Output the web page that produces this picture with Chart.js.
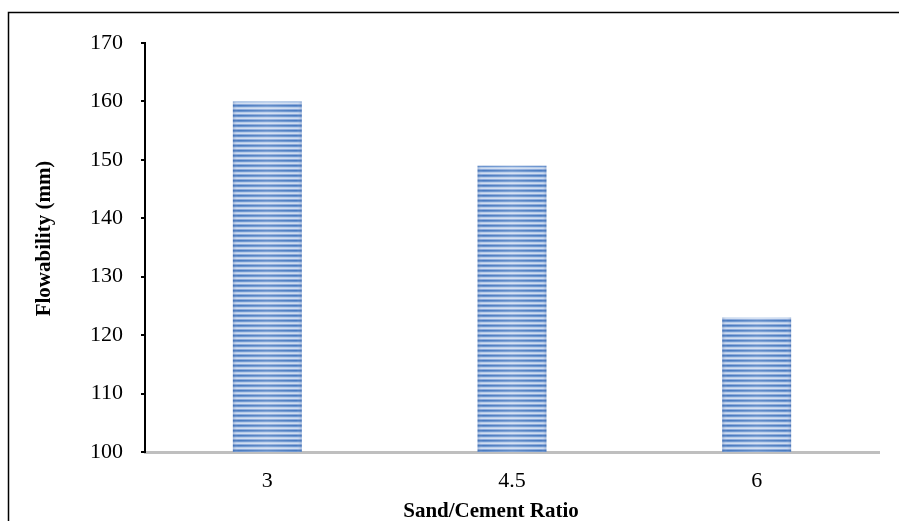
<!DOCTYPE html>
<html>
<head>
<meta charset="utf-8">
<script src="https://cdn.jsdelivr.net/npm/chart.js@4.4.1/dist/chart.umd.min.js"></script>
<style>
    body { margin: 0; background: #fff; }
    #chartBox { width: 899px; height: 521px; }
</style>
</head>
<body>
<div id="chartBox"><canvas id="myBarChart"></canvas></div>
<script>
// data
var ratioLabels = ['3', '4.5', '6'];
var flowValues = [160, 149, 123];
var yTicks = [100, 110, 120, 130, 140, 150, 160, 170];

var xTitle = 'Sand/Cement Ratio';
var yTitle = 'Flowability (mm)';

var barFrac = 0.282;

function stripeTile(w) {
    // horizontal stripes, a bit lighter towards the middle of the bar
    let c = document.createElement('canvas');
    c.width = w;
    c.height = 5;
    let p = c.getContext('2d');
    let rows = ['#4a7bc0', '#6e96d0', '#b4cbea', '#cfdcf0', '#8aa9da'];
    for (let i = 0; i < rows.length; i++) {
        p.fillStyle = rows[i];
        p.fillRect(0, i, w, 1);
    }
    let g = p.createLinearGradient(0, 0, w, 0);
    g.addColorStop(0, 'rgba(40,80,150,0.25)');
    g.addColorStop(0.08, 'rgba(255,255,255,0)');
    g.addColorStop(0.5, 'rgba(255,255,255,0.15)');
    g.addColorStop(0.92, 'rgba(255,255,255,0)');
    g.addColorStop(1, 'rgba(40,80,150,0.25)');
    p.fillStyle = g;
    p.fillRect(0, 0, w, 5);
    return c;
}

function barFill(context) {
    let chart = context.chart;
    let xs = chart.scales.x;
    let fallback = '#7fa3d6';
    if (!xs || context.dataIndex === undefined) return fallback;
    let cat = xs.width / ratioLabels.length;
    let w = Math.round(cat * barFrac);
    let left = xs.getPixelForValue(context.dataIndex) - w / 2;
    if (!isFinite(w) || w < 2 || !isFinite(left)) return fallback;
    let pat = chart.ctx.createPattern(stripeTile(w), 'repeat');
    if (pat.setTransform) pat.setTransform(new DOMMatrix().translate(left, 0));
    return pat;
}

// frame + axis titles
var decorPlugin = {
    id: 'decor',
    afterDraw: function(chart) {
        let ctx = chart.ctx;
        ctx.save();
        ctx.strokeStyle = '#000';
        ctx.lineWidth = 1.5;
        ctx.beginPath();
        ctx.moveTo(8.5, 530);
        ctx.lineTo(8.5, 12.5);
        ctx.lineTo(905, 12.5);
        ctx.stroke();

        ctx.fillStyle = '#000';
        ctx.font = 'bold 21px "Liberation Serif", "Times New Roman", serif';
        ctx.textAlign = 'center';
        ctx.textBaseline = 'alphabetic';
        ctx.fillText(xTitle, 491, 517);

        ctx.translate(50, 238.5);
        ctx.rotate(-Math.PI / 2);
        ctx.fillText(yTitle, 0, 0);
        ctx.restore();
    }
};

function populateBarChart(chartId) {
    const ctx = document.getElementById(chartId).getContext('2d');
    var myChart = new Chart(ctx, {
        type: 'bar',
        data: {
            labels: ratioLabels,
            datasets: [{
                label: 'Flowability',
                data: flowValues,
                backgroundColor: barFill,
                borderWidth: 0,
                categoryPercentage: 1,
                barPercentage: barFrac
            }]
        },
        options: {
            responsive: true,
            maintainAspectRatio: false,
            animation: false,
            layout: {
                padding: { top: 43, right: 20, bottom: 0, left: 0 }
            },
            plugins: {
                legend: { display: false },
                tooltip: { enabled: false }
            },
            scales: {
                x: {
                    grid: { display: false, drawTicks: false },
                    border: { display: true, color: '#bfbfbf', width: 3 },
                    ticks: {
                        color: '#000',
                        padding: 16,
                        font: { family: '"Liberation Serif", "Times New Roman", serif', size: 22 }
                    },
                    afterFit: function(scale) { scale.height = 69; }
                },
                y: {
                    min: 100,
                    max: 170,
                    afterBuildTicks: function(scale) {
                        scale.ticks = yTicks.map(function(v) { return { value: v }; });
                    },
                    grid: {
                        drawOnChartArea: false,
                        drawTicks: true,
                        tickLength: 4,
                        color: '#000',
                        lineWidth: 2
                    },
                    border: { display: true, color: '#000', width: 2 },
                    ticks: {
                        color: '#000',
                        padding: 18,
                        font: { family: '"Liberation Serif", "Times New Roman", serif', size: 22 }
                    },
                    afterFit: function(scale) { scale.width = 145; }
                }
            }
        },
        plugins: [decorPlugin]
    });
}

populateBarChart('myBarChart');
</script>
</body>
</html>
